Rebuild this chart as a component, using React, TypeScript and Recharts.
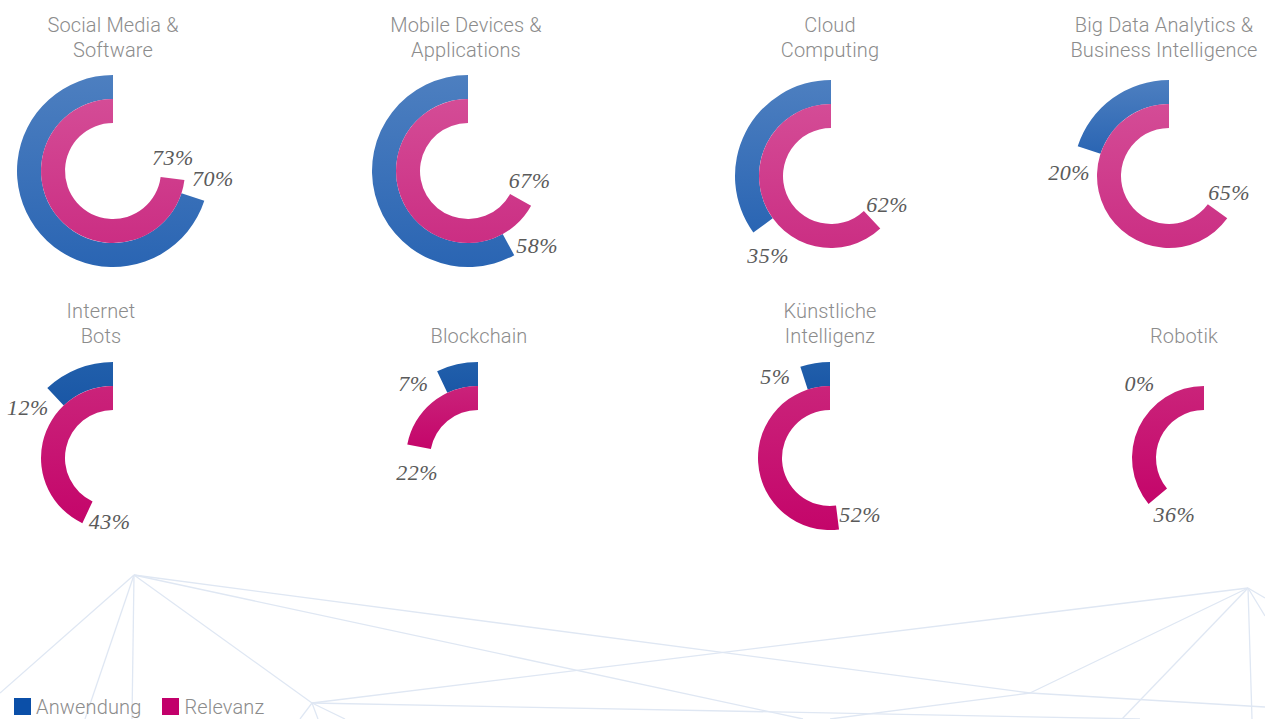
import { PieChart, Pie, Cell } from 'recharts';

const topics = [
  'Social Media &\nSoftware',
  'Mobile Devices &\nApplications',
  'Cloud\nComputing',
  'Big Data Analytics &\nBusiness Intelligence',
  'Internet\nBots',
  'Blockchain',
  'Künstliche\nIntelligenz',
  'Robotik',
];
const anwendung = [70, 58, 35, 20, 12, 7, 5, 0];
const relevanz = [73, 67, 62, 65, 43, 22, 52, 36];
const seriesNames = ['Anwendung', 'Relevanz'];

// ring centre and title centre of every small chart, in page pixels
const layout = [
  { cx: 113, cy: 171, tx: 113, row: 0 },
  { cx: 468, cy: 171, tx: 466, row: 0 },
  { cx: 831, cy: 176, tx: 830, row: 0 },
  { cx: 1169, cy: 176, tx: 1164, row: 0 },
  { cx: 113, cy: 458, tx: 101, row: 1 },
  { cx: 478, cy: 458, tx: 479, row: 1 },
  { cx: 830, cy: 458, tx: 830, row: 1 },
  { cx: 1204, cy: 458, tx: 1184, row: 1 },
];
const titleTop = [13, 299];

const palettes = [
  { blue: ['#4d7fc0', '#2a65b3'], pink: ['#d44c96', '#cb2e83'] },
  { blue: ['#215fab', '#1a57a6'], pink: ['#ca237a', '#c4056a'] },
];

// background network (decoration only)
const netLines = [
  [134, 575, 0, 693], [134, 575, 85, 719], [134, 575, 132, 719], [134, 575, 312, 703],
  [134, 575, 1030, 693], [134, 575, 803, 719], [1030, 693, 1265, 707],
  [312, 703, 1248, 588], [312, 703, 1140, 719], [312, 703, 300, 719], [312, 703, 318, 719],
  [312, 703, 345, 719], [1248, 588, 1265, 598], [1248, 588, 1265, 616], [1248, 588, 1252, 719],
  [1248, 588, 1122, 719], [1248, 588, 1030, 693], [1030, 693, 830, 719],
];

const W = 260;
const H = 240;
const RAD = Math.PI / 180;
const labelFont = '"Liberation Serif", "DejaVu Serif", serif';

const ringLabel = (radius: number, shift: number) => (p: any) => {
  if (p.index !== 0) return null;
  const v = p.payload?.value ?? p.value;
  const a = (p.endAngle + (v === 0 ? 40 : shift)) * RAD;
  return (
    <text
      x={p.cx + radius * Math.cos(a)}
      y={p.cy - radius * Math.sin(a) + 2}
      textAnchor="middle"
      dominantBaseline="central"
      fill="#5a5a5a"
      fontFamily={labelFont}
      fontStyle="italic"
      fontSize={22}
      letterSpacing={0.5}
    >
      {v}%
    </text>
  );
};

function Donut({ i }: { i: number }) {
  const { cx, cy, row } = layout[i];
  const pal = palettes[row];
  const outer = [{ value: anwendung[i] }, { value: 100 - anwendung[i] }];
  const inner = [{ value: relevanz[i] }, { value: 100 - relevanz[i] }];
  return (
    <div style={{ position: 'absolute', left: cx - W / 2, top: cy - H / 2 }}>
      <PieChart width={W} height={H}>
        <defs>
          <linearGradient id={`blue${i}`} x1="0" y1="0" x2="0" y2="1">
            <stop offset="0%" stopColor={pal.blue[0]} />
            <stop offset="100%" stopColor={pal.blue[1]} />
          </linearGradient>
          <linearGradient id={`pink${i}`} x1="0" y1="0" x2="0" y2="1">
            <stop offset="0%" stopColor={pal.pink[0]} />
            <stop offset="100%" stopColor={pal.pink[1]} />
          </linearGradient>
        </defs>
        <Pie
          data={outer}
          dataKey="value"
          cx="50%"
          cy="50%"
          startAngle={90}
          endAngle={450}
          innerRadius={72}
          outerRadius={96}
          stroke="none"
          labelLine={false}
          label={ringLabel(100, 15)}
          isAnimationActive={false}
        >
          <Cell fill={`url(#blue${i})`} />
          <Cell fill="none" />
        </Pie>
        <Pie
          data={inner}
          dataKey="value"
          cx="50%"
          cy="50%"
          startAngle={90}
          endAngle={450}
          innerRadius={48}
          outerRadius={72}
          stroke="none"
          labelLine={false}
          label={ringLabel(62, 22)}
          isAnimationActive={false}
        >
          <Cell fill={`url(#pink${i})`} />
          <Cell fill="none" />
        </Pie>
      </PieChart>
    </div>
  );
}

const titleStyle: React.CSSProperties = {
  position: 'absolute',
  width: 300,
  height: 50,
  display: 'flex',
  flexDirection: 'column',
  justifyContent: 'flex-end',
  textAlign: 'center',
  whiteSpace: 'pre-line',
  fontFamily: 'Roboto, sans-serif',
  fontWeight: 300,
  fontSize: 20,
  lineHeight: '25px',
  letterSpacing: 0.15,
  color: '#8c8c8c',
};

const legendColors = ['#0b4fa8', '#c2006b'];

export default function App() {
  return (
    <div
      style={{
        position: 'absolute',
        left: 0,
        top: 0,
        width: 1265,
        height: 719,
        overflow: 'hidden',
        background: '#fff',
      }}
    >
      <svg width={1265} height={719} style={{ position: 'absolute', left: 0, top: 0 }}>
        {netLines.map(([x1, y1, x2, y2], k) => (
          <line key={k} x1={x1} y1={y1} x2={x2} y2={y2} stroke="#dfe7f3" strokeWidth={1.3} />
        ))}
      </svg>
      {topics.map((_, i) => (
        <Donut key={i} i={i} />
      ))}
      {topics.map((t, i) => (
        <div key={t} style={{ ...titleStyle, left: layout[i].tx - 150, top: titleTop[layout[i].row] }}>
          <span>{t}</span>
        </div>
      ))}
      <div
        style={{
          position: 'absolute',
          left: 14,
          top: 698,
          display: 'flex',
          alignItems: 'flex-start',
          fontFamily: 'Roboto, sans-serif',
          fontWeight: 300,
          fontSize: 20,
          lineHeight: '19px',
          letterSpacing: 0.15,
          color: '#8c8c8c',
        }}
      >
        {seriesNames.map((n, k) => (
          <div key={n} style={{ display: 'flex', alignItems: 'flex-start', marginRight: 21 }}>
            <span style={{ width: 17, height: 17, background: legendColors[k], marginRight: 5 }} />
            <span>{n}</span>
          </div>
        ))}
      </div>
    </div>
  );
}
